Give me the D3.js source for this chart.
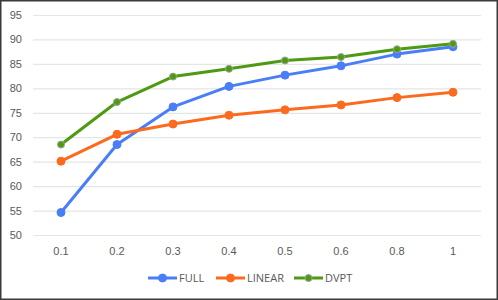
<!DOCTYPE html>
<html>
<head>
<meta charset="utf-8">
<script src="https://cdn.jsdelivr.net/npm/d3@7"></script>
<style>
  body { margin: 0; background: #fff; }
  svg { display: block; font-family: "Open Sans", sans-serif; }
  .tick text { fill: #595959; font-size: 11px; }
  .legend text { fill: #595959; font-size: 11px; }
</style>
</head>
<body>
<svg id="chart" width="498" height="300"></svg>
<script>
const categories = ['0.1', '0.2', '0.3', '0.4', '0.5', '0.6', '0.8', '1']
const yTicks = [50, 55, 60, 65, 70, 75, 80, 85, 90, 95]
const fullValues = [54.6, 68.5, 76.2, 80.4, 82.7, 84.6, 87.0, 88.5]
const linearValues = [65.1, 70.6, 72.7, 74.5, 75.6, 76.6, 78.1, 79.2]
const dvptValues = [68.5, 77.2, 82.4, 84.0, 85.7, 86.4, 88.0, 89.1]
const seriesNames = ['FULL', 'LINEAR', 'DVPT']

const COLORS = { FULL: '#4a7ef6', LINEAR: '#fc6a1e', DVPT: '#4e9a12' }

const width = 498, height = 300
const MARGIN = { top: 15, right: 17, bottom: 65, left: 33 }
const boundedWidth = width - MARGIN.left - MARGIN.right
const boundedHeight = height - MARGIN.top - MARGIN.bottom

const series = [
  { name: 'FULL', values: fullValues },
  { name: 'LINEAR', values: linearValues },
  { name: 'DVPT', values: dvptValues }
]

const $svg = d3.select('#chart')

// outer frame
$svg.append('rect')
  .attr('x', 0.75).attr('y', 0.75)
  .attr('width', width - 1.5).attr('height', height - 1.5)
  .attr('fill', '#fff')
  .attr('stroke', '#3a3a3a')
  .attr('stroke-width', 1.5)

const xScale = d3.scaleBand()
  .domain(categories)
  .range([0, boundedWidth])
const yScale = d3.scaleLinear()
  .domain([50, 95])
  .range([boundedHeight, 0])

const $g = $svg.append('g')
  .attr('transform', `translate(${MARGIN.left}, ${MARGIN.top})`)

// y axis + gridlines
const $yAxis = $g.append('g')
  .call(d3.axisLeft(yScale).tickValues(yTicks).tickSize(-boundedWidth).tickPadding(11))
$yAxis.select('.domain').remove()
$yAxis.selectAll('.tick line').attr('stroke', '#e3e6e6').attr('stroke-width', 1.2)

// x axis
const $xAxis = $g.append('g')
  .attr('transform', `translate(0, ${boundedHeight})`)
  .call(d3.axisBottom(xScale).tickSize(0).tickPadding(12))
$xAxis.select('.domain').remove()

const lineGen = d3.line()
  .x((d, i) => xScale(categories[i]) + xScale.bandwidth() / 2)
  .y(d => yScale(d))

const $series = $g.selectAll('.series')
  .data(series)
  .enter()
  .append('g')
    .attr('class', 'series')

$series.append('path')
  .attr('d', d => lineGen(d.values))
  .attr('fill', 'none')
  .attr('stroke', d => COLORS[d.name])
  .attr('stroke-width', 3)
  .attr('stroke-linejoin', 'round')

$series.selectAll('circle')
  .data(d => d.values.map(v => ({ name: d.name, v })))
  .enter()
  .append('circle')
    .attr('cx', (d, i) => xScale(categories[i]) + xScale.bandwidth() / 2)
    .attr('cy', d => yScale(d.v))
    .attr('r', d => d.name === 'DVPT' ? 3.5 : 4)
    .attr('fill', d => COLORS[d.name])
    .attr('stroke', d => d.name === 'DVPT' ? '#9aa59a' : COLORS[d.name])
    .attr('stroke-width', 1)

// legend
const legendX = [148, 216, 294]
const $legend = $svg.append('g')
  .attr('class', 'legend')
  .attr('transform', 'translate(0, 278)')
const $item = $legend.selectAll('g')
  .data(seriesNames)
  .enter()
  .append('g')
    .attr('transform', (d, i) => `translate(${legendX[i]}, 0)`)
$item.append('line')
  .attr('x1', 0).attr('x2', 29)
  .attr('stroke', d => COLORS[d])
  .attr('stroke-width', 3)
$item.append('circle')
  .attr('cx', 14.5)
  .attr('r', d => d === 'DVPT' ? 3.5 : 4)
  .attr('fill', d => COLORS[d])
  .attr('stroke', d => d === 'DVPT' ? '#9aa59a' : COLORS[d])
$item.append('text')
  .attr('x', 31)
  .attr('dy', '0.35em')
  .text(d => d)
</script>
</body>
</html>
